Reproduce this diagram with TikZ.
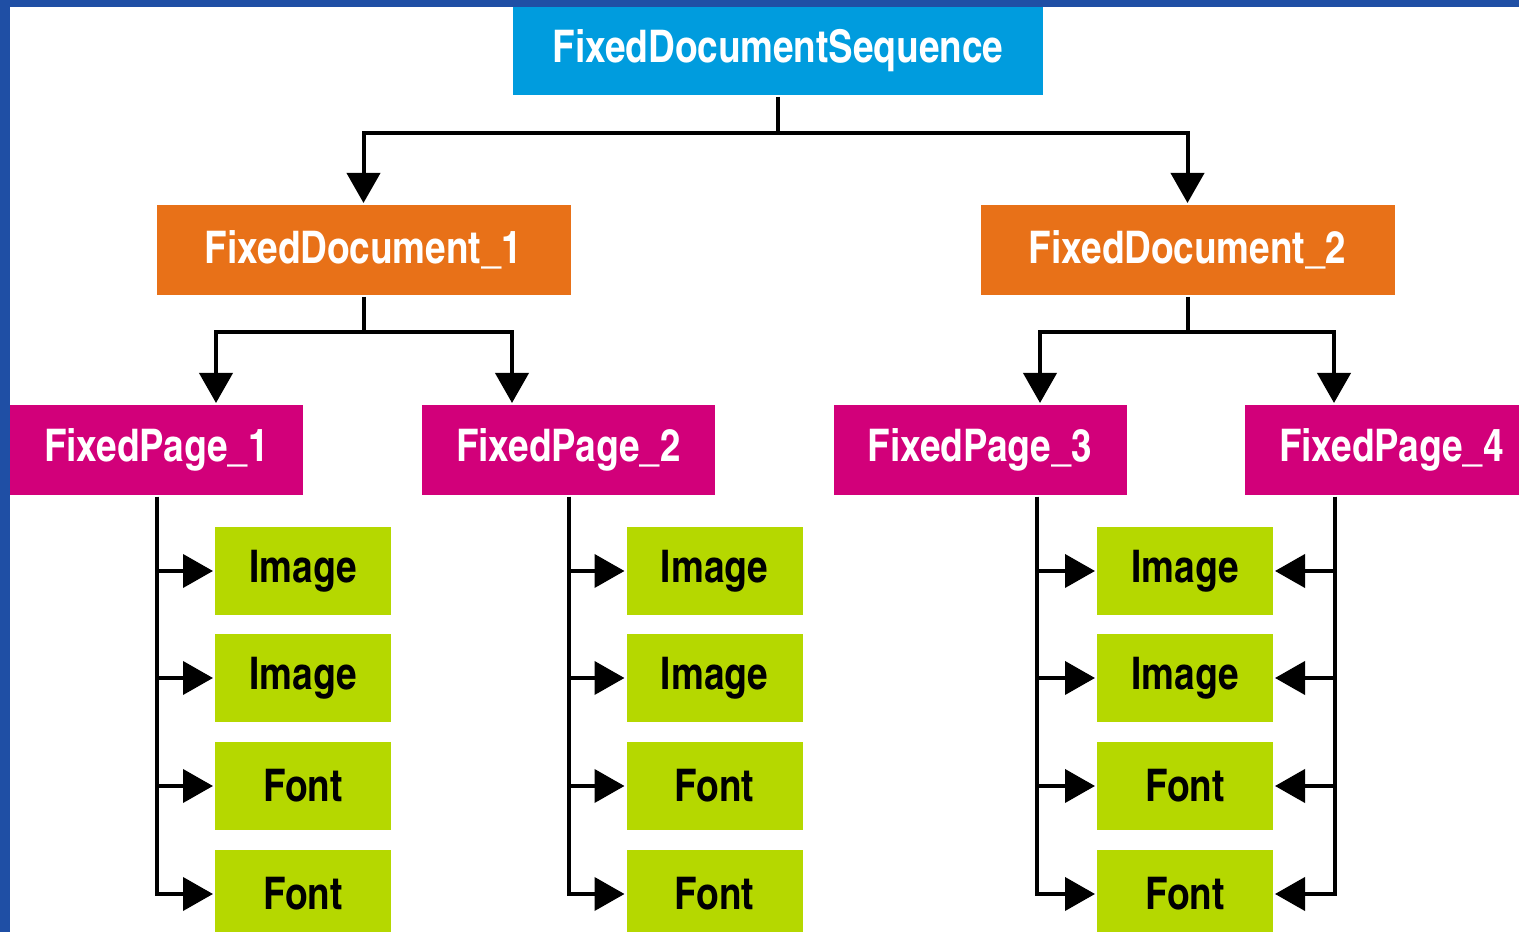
\documentclass[tikz,border=0pt]{standalone}
\usepackage{fontspec}
\newfontfamily\boxfont{texgyreheroscn-bold}[Extension=.otf]
\usetikzlibrary{arrows.meta,calc}
\definecolor{frameblue}{HTML}{1F4FA5}
\definecolor{seqblue}{HTML}{009CDE}
\definecolor{docorange}{HTML}{E87118}
\definecolor{pagemagenta}{HTML}{D2007A}
\definecolor{partgreen}{HTML}{B5D800}

\begin{document}
\begin{tikzpicture}[x=0.1mm,y=-0.1mm,line width=0.4mm]
    %
    % `box' is the common look of all labels.
    % `seq', `doc', `page' and `part' are the four levels of the tree.
    % `link' is used for every connector.
    \tikzstyle{box} = [inner sep=0pt,text=white,font=\boxfont\fontsize{12.8}{15}\selectfont]
    \tikzstyle{seq} = [box,fill=seqblue,minimum width=53mm,minimum height=8.8mm]
    \tikzstyle{doc} = [box,fill=docorange,minimum width=41.4mm,minimum height=9mm]
    \tikzstyle{page} = [box,fill=pagemagenta,minimum width=29.3mm,minimum height=9mm]
    \tikzstyle{part} = [box,fill=partgreen,text=black,minimum width=17.6mm,minimum height=8.8mm]
    \tikzstyle{link} = [draw=black,-{Triangle[length=3mm,width=3.3mm]}]
    %
    % Frame
    \useasboundingbox (0,0) rectangle (1519,932);
    \clip (0,0) rectangle (1519,932);
    \fill[frameblue] (0,0) rectangle (1519,932);
    \fill[white] (10,7) rectangle (1519,932);
    %
    % Sequence
    \node[seq] (seq) at (778,51) {FixedDocumentSequence};
    %
    % Documents
    \node[doc] (doc1) at (363.5,250) {FixedDocument\_1};
    \node[doc] (doc2) at (1187.5,250) {FixedDocument\_2};
    \draw[link] (seq.south) -- ++(0,36) -| (doc1.north);
    \draw[link] (seq.south) -- ++(0,36) -| (doc2.north);
    %
    % Pages
    \node[page] (page1) at (156.5,450) {FixedPage\_1};
    \node[page] (page2) at (568.5,450) {FixedPage\_2};
    \node[page] (page3) at (980,450) {FixedPage\_3};
    \node[page] (page4) at (1391.5,450) {FixedPage\_4};
    \draw[link] (doc1.south) -- ++(0,35) -| ($(page1.north)+(59.5,0)$);
    \draw[link] (doc1.south) -- ++(0,35) -| ($(page2.north)+(-56.5,0)$);
    \draw[link] (doc2.south) -- ++(0,35) -| ($(page3.north)+(60,0)$);
    \draw[link] (doc2.south) -- ++(0,35) -| ($(page4.north)+(-57.5,0)$);
    %
    % Column 1
    \node[part] (img11) at (303,571) {Image};
    \node[part] (img12) at (303,678) {Image};
    \node[part] (font13) at (303,786) {Font};
    \node[part] (font14) at (303,894) {Font};
    \draw[link] (page1.south) |- (img11.west);
    \draw[link] (page1.south) |- (img12.west);
    \draw[link] (page1.south) |- (font13.west);
    \draw[link] (page1.south) |- (font14.west);
    %
    % Column 2
    \node[part] (img21) at (714.5,571) {Image};
    \node[part] (img22) at (714.5,678) {Image};
    \node[part] (font23) at (714.5,786) {Font};
    \node[part] (font24) at (714.5,894) {Font};
    \draw[link] (page2.south) |- (img21.west);
    \draw[link] (page2.south) |- (img22.west);
    \draw[link] (page2.south) |- (font23.west);
    \draw[link] (page2.south) |- (font24.west);
    %
    % Column 3 (shared by pages 3 and 4)
    \node[part] (img31) at (1185,571) {Image};
    \node[part] (img32) at (1185,678) {Image};
    \node[part] (font33) at (1185,786) {Font};
    \node[part] (font34) at (1185,894) {Font};
    \draw[link] ($(page3.south)+(57,0)$) |- (img31.west);
    \draw[link] ($(page3.south)+(57,0)$) |- (img32.west);
    \draw[link] ($(page3.south)+(57,0)$) |- (font33.west);
    \draw[link] ($(page3.south)+(57,0)$) |- (font34.west);
    \draw[link] ($(page4.south)+(-56.5,0)$) |- (img31.east);
    \draw[link] ($(page4.south)+(-56.5,0)$) |- (img32.east);
    \draw[link] ($(page4.south)+(-56.5,0)$) |- (font33.east);
    \draw[link] ($(page4.south)+(-56.5,0)$) |- (font34.east);
    %
\end{tikzpicture}
\end{document}
